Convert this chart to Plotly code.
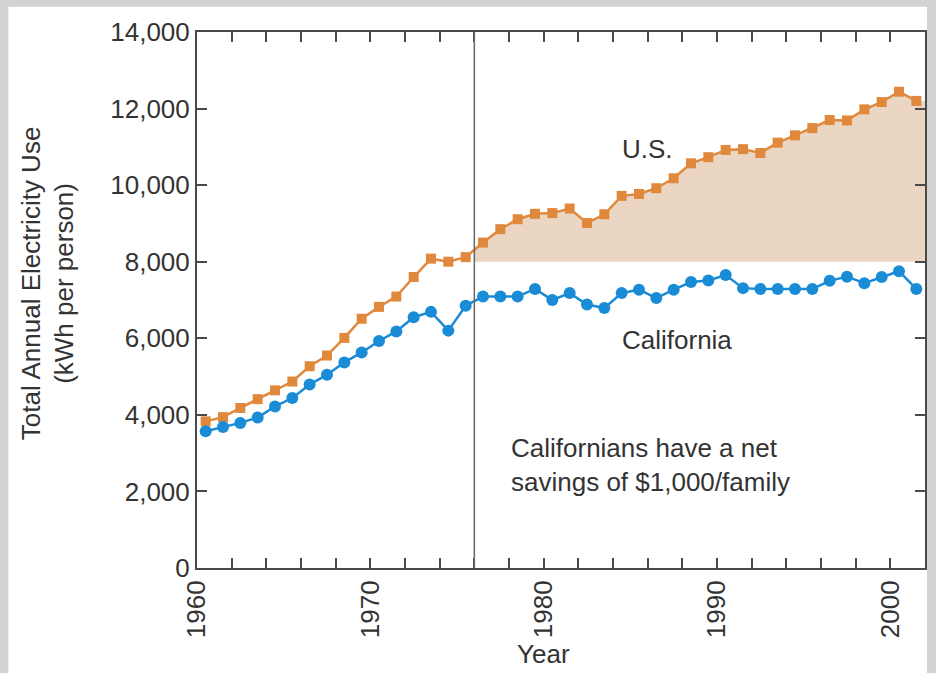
import numpy as np
import plotly.graph_objects as go

# Per-capita electricity use, kWh per person, one value per year
years = list(range(1960, 2002))
us_kwh = [3830, 3940, 4180, 4410, 4640, 4870, 5270, 5550, 6010, 6510, 6820,
          7090, 7600, 8080, 8000, 8120, 8500, 8850, 9110, 9250, 9270,
          9390, 9010, 9240, 9720, 9770, 9920, 10180, 10570, 10730, 10920,
          10940, 10840, 11110, 11300, 11490, 11700, 11690, 11980, 12170, 12440, 12200]
ca_kwh = [3570, 3680, 3790, 3930, 4220, 4440, 4790, 5050, 5370, 5630, 5930,
          6180, 6550, 6690, 6200, 6850, 7090, 7090, 7090, 7290, 7000,
          7180, 6880, 6790, 7180, 7270, 7050, 7270, 7470, 7510, 7650,
          7310, 7290, 7290, 7290, 7290, 7500, 7610, 7440, 7600, 7750, 7290]

split_year = 1976        # year marked by the vertical rule
shade_base = 8000        # lower edge of the shaded U.S. band
x_range = [1960, 2002]
y_ticks = [0, 2000, 4000, 6000, 8000, 10000, 12000, 14000]
x_ticks = [1960, 1970, 1980, 1990, 2000]

US_COLOR = "#e0893c"
CA_COLOR = "#1a8cd6"
SHADE = "#ebd5c3"
AXIS = "#4a4a4a"
TEXT = "#333333"
FONT = "Liberation Sans, Arial, sans-serif"
FS = 26

# each annual value sits in the middle of its year
x_mid = np.array(years) + 0.5
us = np.array(us_kwh, dtype=float)
ca = np.array(ca_kwh, dtype=float)

# shaded band: from the split year to the right edge, between the base and the U.S. curve
keep = x_mid > split_year
band_x = np.concatenate([[split_year], x_mid[keep], [x_range[1]]])
band_y = np.concatenate([[np.interp(split_year, x_mid, us)], us[keep], [us[-1]]])

fig = go.Figure()
fig.add_trace(go.Scatter(x=band_x, y=np.full(band_x.shape, shade_base), mode="lines",
                         line=dict(width=0), hoverinfo="skip", showlegend=False))
fig.add_trace(go.Scatter(x=band_x, y=band_y, mode="lines", fill="tonexty",
                         fillcolor=SHADE, line=dict(width=0), hoverinfo="skip",
                         showlegend=False))
fig.add_trace(go.Scatter(x=x_mid, y=us, mode="lines+markers", name="U.S.",
                         line=dict(color=US_COLOR, width=2.5),
                         marker=dict(symbol="square", size=10, color=US_COLOR),
                         showlegend=False))
fig.add_trace(go.Scatter(x=x_mid, y=ca, mode="lines+markers", name="California",
                         line=dict(color=CA_COLOR, width=2.5),
                         marker=dict(symbol="circle", size=12, color=CA_COLOR),
                         showlegend=False))

# vertical rule at the split year
fig.add_shape(type="line", xref="x", yref="paper", x0=split_year, x1=split_year,
              y0=0, y1=1, line=dict(color="#666666", width=1.5), layer="above")

# white card on the grey page
fig.add_shape(type="rect", xref="paper", yref="paper",
              x0=-0.259, x1=1.0027, y0=-0.196, y1=1.047,
              fillcolor="white", line=dict(width=0), layer="below")

label_font = dict(size=FS, color=TEXT, family=FONT)
fig.add_annotation(x=1986, y=10950, text="U.S.", showarrow=False, font=label_font)
fig.add_annotation(x=1987.7, y=5950, text="California", showarrow=False, font=label_font)
fig.add_annotation(x=1978, y=2700, xanchor="left", align="left", showarrow=False,
                   text="Californians have a net<br>savings of $1,000/family",
                   font=label_font)

# axis titles
fig.add_annotation(xref="paper", yref="paper", x=-0.2055, y=0.532,
                   xanchor="center", yanchor="middle", textangle=-90,
                   showarrow=False, font=label_font,
                   text="Total Annual Electricity Use<br>(kWh per person)")
fig.add_annotation(xref="x", yref="paper", x=1980, y=-0.1604,
                   xanchor="center", yanchor="middle", showarrow=False,
                   font=label_font, text="Year")

fig.update_layout(
    width=936, height=673,
    margin=dict(l=197, r=9, t=32, b=105),
    paper_bgcolor="#d3d3d5",
    plot_bgcolor="white",
    font=dict(family=FONT, size=FS, color=TEXT),
    xaxis=dict(range=x_range, tickvals=x_ticks, tickangle=-90,
               ticks="inside", ticklen=10, tickwidth=2, tickcolor=AXIS,
               minor=dict(dtick=2, tick0=1960, ticks="inside", ticklen=10,
                          tickwidth=2, tickcolor=AXIS),
               showline=True, linecolor=AXIS, linewidth=2, mirror="ticks",
               showgrid=False, zeroline=False,
               tickfont=dict(size=FS, color=TEXT)),
    yaxis=dict(range=[0, 14000], tickvals=y_ticks, tickformat=",d",
               ticks="inside", ticklen=10, tickwidth=2, tickcolor=AXIS,
               showline=True, linecolor=AXIS, linewidth=2, mirror="ticks",
               showgrid=False, zeroline=False,
               tickfont=dict(size=FS, color=TEXT)),
)

fig.write_html("out.html")
